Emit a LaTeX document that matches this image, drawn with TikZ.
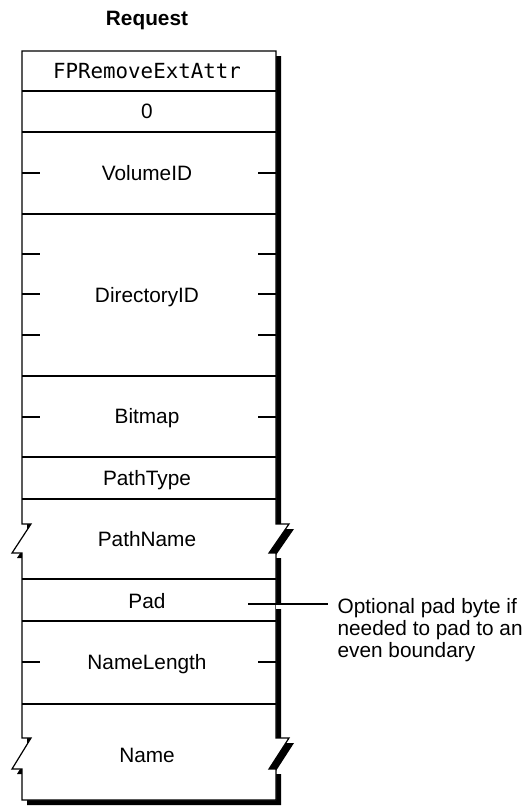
\documentclass[tikz,border=0pt]{standalone}
\usepackage{fontspec}
\setmainfont{Liberation Sans}
\newfontfamily\cmdfont{DejaVu Sans Mono}
\usetikzlibrary{positioning}
\newcommand{\fieldfont}{\fontsize{10.4bp}{11bp}\selectfont}
\newcommand{\reqshape}{(22,51) -- (276,51) -- (276,524) -- (289,524) -- (269,553) -- (276,553)
  -- (276,738) -- (289,738) -- (269,769) -- (276,769) -- (276,800) -- (22,800)
  -- (22,769) -- (12,769) -- (31,738) -- (22,738) -- (22,553) -- (12,553) -- (31,524) -- (22,524) -- cycle}

\begin{document}
\begin{tikzpicture}[x=0.5bp, y=-0.5bp, line width=0.6bp,
    every node/.style={font=\fieldfont},
    field/.style={inner sep=0pt, text height=0.716em, text depth=0pt, anchor=center},
    tick/.style={line width=0.6bp}]
    \useasboundingbox (0,0) rectangle (527,806);

    % title
    \node[field, font=\fieldfont\bfseries] (title) at (147,18) {Request};

    % block with drop shadow
    \fill[black, shift={(5,5)}] \reqshape;
    \filldraw[fill=white] \reqshape;
    \foreach \yy in {91,132,214,376,457,499,579,621,704}
      \draw (22,\yy) -- (276,\yy);
    \foreach \yy in {173,254,294,335,417,662} {
      \draw[tick] (22,\yy) -- (40,\yy);
      \draw[tick] (258,\yy) -- (276,\yy);
    }

    % field names
    \node[field, font=\fieldfont\cmdfont] (cmd) at (147,71) {FPRemoveExtAttr};
    \node[field] (zero)  at (147,111.5) {0};
    \node[field] (vol)   at (147,173) {VolumeID};
    \node[field] (dir)   at (147,295) {DirectoryID};
    \node[field] (bmp)   at (147,416.5) {Bitmap};
    \node[field] (ptype) at (147,478) {PathType};
    \node[field] (pname) at (147,539) {PathName};
    \node[field] (pad)   at (147,601) {Pad};
    \node[field] (nlen)  at (147,662) {NameLength};
    \node[field] (name)  at (147,755) {Name};

    % callout for the pad byte
    \coordinate (padtip) at (248,604);
    \node[inner sep=0pt, anchor=north west, align=left] (padnote) at (337,598)
      {Optional pad byte if\\needed to pad to an\\even boundary};
    \fill[white] (276,605) rectangle (283,609);
    \draw[shorten >=4.5bp] (padtip) -- (padtip -| padnote.west);
\end{tikzpicture}
\end{document}
